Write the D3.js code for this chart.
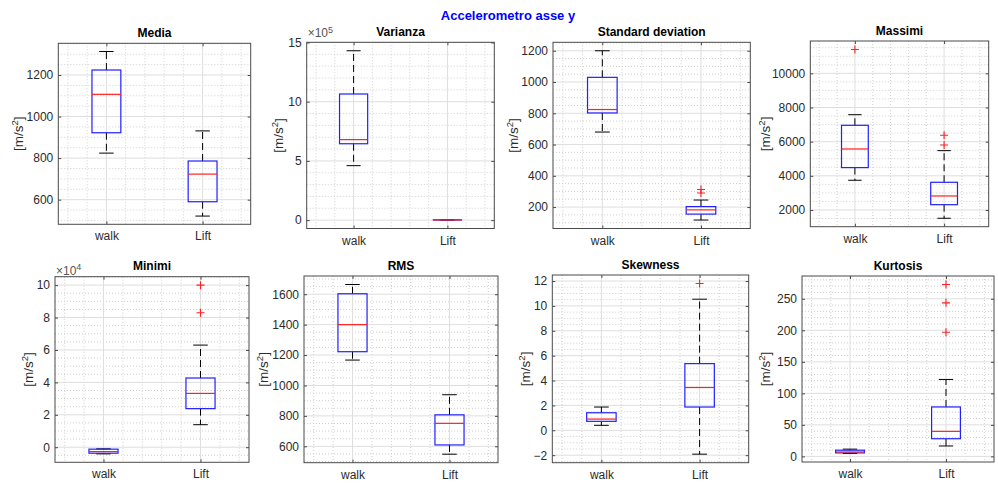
<!DOCTYPE html>
<html>
<head>
<meta charset="utf-8">
<script src="https://cdn.jsdelivr.net/npm/d3@7"></script>
<style>
  body { margin: 0; background: #fff; }
  svg { display: block; font-family: "Liberation Sans", Arial, Helvetica, sans-serif; }
</style>
</head>
<body>
<svg id="chart" width="998" height="494"></svg>
<script>
// ---- data ---------------------------------------------------------------
const figureTitle = "Accelerometro asse y";
const groups = ["walk", "Lift"];
const panelTitles = ["Media", "Varianza", "Standard deviation", "Massimi",
                     "Minimi", "RMS", "Skewness", "Kurtosis"];
const unitText = "m/s";

// five-number summaries per panel: [lower whisker, Q1, median, Q3, upper whisker]
const walkStats = [
  [824, 922, 1107, 1224, 1313],
  [4.6e5, 6.45e5, 6.8e5, 10.65e5, 14.3e5],
  [680, 802, 824, 1030, 1200],
  [3740, 4480, 5572, 6958, 7578],
  [-4100, -3700, -2700, -1200, -1000],
  [1167, 1222, 1400, 1603, 1664],
  [0.40, 0.72, 0.90, 1.41, 1.87],
  [4.5, 5.5, 7.0, 9.8, 11.5]
];
const liftStats = [
  [521, 590, 723, 786, 931],
  [1000, 1500, 2000, 2500, 3000],
  [117, 155, 182, 203, 245],
  [1515, 2310, 2820, 3622, 5474],
  [13900, 23800, 33200, 42700, 63000],
  [548, 609, 751, 807, 939],
  [-1.92, 1.87, 3.44, 5.36, 10.54],
  [16.5, 28, 39.7, 78.4, 122]
];
const walkOutliers = [[], [], [], [11400], [], [], [], []];
const liftOutliers = [[], [], [290, 312], [5806, 6373], [83000, 100000], [], [11.8], [197, 243.5, 272.7]];

// y tick values (real units) and the power of ten shown above the axis
const yTicks = [
  [600, 800, 1000, 1200],
  [0, 5e5, 10e5, 15e5],
  [200, 400, 600, 800, 1000, 1200],
  [2000, 4000, 6000, 8000, 10000],
  [0, 2e4, 4e4, 6e4, 8e4, 10e4],
  [600, 800, 1000, 1200, 1400, 1600],
  [-2, 0, 2, 4, 6, 8, 10, 12],
  [0, 50, 100, 150, 200, 250]
];
const yExponent = [0, 5, 0, 0, 4, 0, 0, 0];

// ---- layout -------------------------------------------------------------
const frames = [
  { x0: 58.3, x1: 250.7, y0: 43.3, y1: 224.3, lab: 40 },
  { x0: 306.7, x1: 494.3, y0: 42.3, y1: 228.5, lab: 28 },
  { x0: 553, x1: 750.3, y0: 42.3, y1: 228.5, lab: 40 },
  { x0: 810.3, x1: 988.7, y0: 41, y1: 226.7, lab: 45 },
  { x0: 55, x1: 249, y0: 276.7, y1: 462.3, lab: 27 },
  { x0: 304, x1: 498, y0: 276, y1: 462.7, lab: 41 },
  { x0: 552.3, x1: 748.7, y0: 275, y1: 462.7, lab: 27 },
  { x0: 802, x1: 994, y0: 276, y1: 462, lab: 37 }
];

const AX = "#4a4a4a", TXT = "#2b2b2b";
const GRID = "#dedede", MINOR = "#cfcfcf";
const BOX = "#2020ff", MED = "#ff2020", OUT = "#ff2020";

const svg = d3.select("#chart");

svg.append("text")
  .attr("x", 508).attr("y", 20)
  .attr("text-anchor", "middle")
  .attr("font-size", 13).attr("font-weight", "bold")
  .attr("fill", "#0000ff")
  .text(figureTitle);

function minorStep(step) {
  const p = Math.pow(10, Math.floor(Math.log10(step) + 1e-9));
  const m = Math.round(step / p);
  return m === 2 ? step / 4 : step / 5;
}

panelTitles.forEach((title, k) => {
  const f = frames[k];
  const g = svg.append("g");
  const sW = walkStats[k], sL = liftStats[k];
  const all = sW.concat(sL, walkOutliers[k], liftOutliers[k]);
  const lo = d3.min(all), hi = d3.max(all);
  const pad = 0.05 * (hi - lo);

  const x = d3.scaleLinear().domain([0.5, 2.5]).range([f.x0, f.x1]);
  const y = d3.scaleLinear().domain([lo - pad, hi + pad]).range([f.y1, f.y0]);
  const [d0, d1] = y.domain();
  const ticks = yTicks[k];
  const div = Math.pow(10, yExponent[k]);

  // minor grid (dotted)
  const xm = d3.range(0.6, 2.45, 0.2).filter(v => Math.abs(v - 1) > 1e-6 && Math.abs(v - 2) > 1e-6);
  const ms = minorStep(ticks[1] - ticks[0]);
  const ym = d3.range(Math.ceil(d0 / ms) * ms, d1, ms)
    .filter(v => !ticks.some(t => Math.abs(t - v) < ms * 1e-3));
  g.selectAll(".xm").data(xm).join("line")
    .attr("x1", d => x(d)).attr("x2", d => x(d))
    .attr("y1", f.y0).attr("y2", f.y1)
    .attr("stroke", MINOR).attr("stroke-dasharray", "1,2").attr("stroke-width", 1);
  g.selectAll(".ym").data(ym).join("line")
    .attr("y1", d => y(d)).attr("y2", d => y(d))
    .attr("x1", f.x0).attr("x2", f.x1)
    .attr("stroke", MINOR).attr("stroke-dasharray", "1,2").attr("stroke-width", 1);

  // major grid
  g.selectAll(".xg").data([1, 2]).join("line")
    .attr("x1", d => x(d)).attr("x2", d => x(d))
    .attr("y1", f.y0).attr("y2", f.y1)
    .attr("stroke", GRID).attr("stroke-width", 1);
  g.selectAll(".yg").data(ticks).join("line")
    .attr("y1", d => y(d)).attr("y2", d => y(d))
    .attr("x1", f.x0).attr("x2", f.x1)
    .attr("stroke", GRID).attr("stroke-width", 1);

  // boxes
  [sW, sL].forEach((s, i) => {
    const cx = x(i + 1);
    const half = x(i + 1 + 0.15) - cx;
    const cap = x(i + 1 + 0.075) - cx;
    g.append("line").attr("x1", cx).attr("x2", cx).attr("y1", y(s[3])).attr("y2", y(s[4]))
      .attr("stroke", "#000").attr("stroke-dasharray", "7,4").attr("stroke-width", 1);
    g.append("line").attr("x1", cx).attr("x2", cx).attr("y1", y(s[1])).attr("y2", y(s[0]))
      .attr("stroke", "#000").attr("stroke-dasharray", "7,4").attr("stroke-width", 1);
    [s[0], s[4]].forEach(v => {
      g.append("line").attr("x1", cx - cap).attr("x2", cx + cap).attr("y1", y(v)).attr("y2", y(v))
        .attr("stroke", "#000").attr("stroke-width", 1);
    });
    g.append("rect")
      .attr("x", cx - half).attr("width", 2 * half)
      .attr("y", y(s[3])).attr("height", Math.max(0, y(s[1]) - y(s[3])))
      .attr("fill", "none").attr("stroke", BOX).attr("stroke-width", 1.2);
    g.append("line").attr("x1", cx - half).attr("x2", cx + half)
      .attr("y1", y(s[2])).attr("y2", y(s[2]))
      .attr("stroke", MED).attr("stroke-width", 1.2);
    const outs = i === 0 ? walkOutliers[k] : liftOutliers[k];
    g.selectAll(null).data(outs).join("path")
      .attr("d", d => `M${cx - 4},${y(d)}H${cx + 4}M${cx},${y(d) - 4}V${y(d) + 4}`)
      .attr("stroke", OUT).attr("stroke-width", 1.1).attr("fill", "none");
  });

  // axes with inward ticks, mirrored on top/right
  const fmt = d => d3.format("")(+(d / div).toPrecision(6));
  const styleAxis = sel => {
    sel.select(".domain").remove();
    sel.selectAll(".tick line").attr("stroke", AX);
    sel.selectAll(".tick text").attr("fill", TXT).attr("font-size", 12)
      .attr("font-family", "Liberation Sans, Arial, sans-serif");
  };
  g.append("g").attr("transform", `translate(${f.x0},0)`)
    .call(d3.axisLeft(y).tickValues(ticks).tickFormat(fmt).tickSize(-3).tickPadding(5))
    .call(styleAxis);
  g.append("g").attr("transform", `translate(${f.x1},0)`)
    .call(d3.axisRight(y).tickValues(ticks).tickFormat("").tickSize(-3))
    .call(styleAxis);
  g.append("g").attr("transform", `translate(0,${f.y1})`)
    .call(d3.axisBottom(x).tickValues([1, 2]).tickFormat((d, i) => groups[i]).tickSize(-3).tickPadding(7.5))
    .call(styleAxis);
  g.append("g").attr("transform", `translate(0,${f.y0})`)
    .call(d3.axisTop(x).tickValues([1, 2]).tickFormat("").tickSize(-3))
    .call(styleAxis);

  g.append("rect")
    .attr("x", f.x0).attr("y", f.y0)
    .attr("width", f.x1 - f.x0).attr("height", f.y1 - f.y0)
    .attr("fill", "none").attr("stroke", AX).attr("stroke-width", 1);

  // title
  g.append("text")
    .attr("x", (f.x0 + f.x1) / 2).attr("y", f.y0 - 6.5)
    .attr("text-anchor", "middle").attr("font-size", 12).attr("font-weight", "bold")
    .attr("fill", "#000").text(title);

  // y label
  const yl = g.append("text")
    .attr("transform", `translate(${f.x0 - f.lab},${(f.y0 + f.y1) / 2}) rotate(-90)`)
    .attr("text-anchor", "middle").attr("dy", "0.35em")
    .attr("font-size", 13.5).attr("fill", TXT);
  yl.append("tspan").text("[" + unitText);
  yl.append("tspan").attr("font-size", 9.5).attr("dy", "-0.55em").text("2");
  yl.append("tspan").attr("dy", "0.4em").text("]");

  // exponent label
  if (yExponent[k]) {
    const ey = k === 1 ? f.y0 - 5 : f.y0 - 2;
    const ex = g.append("text").attr("x", f.x0 + 1).attr("y", ey)
      .attr("font-size", 12).attr("fill", "#555");
    ex.append("tspan").text("\u00d710");
    ex.append("tspan").attr("font-size", 9).attr("dy", "-0.5em").text(yExponent[k]);
  }
});
</script>
</body>
</html>
